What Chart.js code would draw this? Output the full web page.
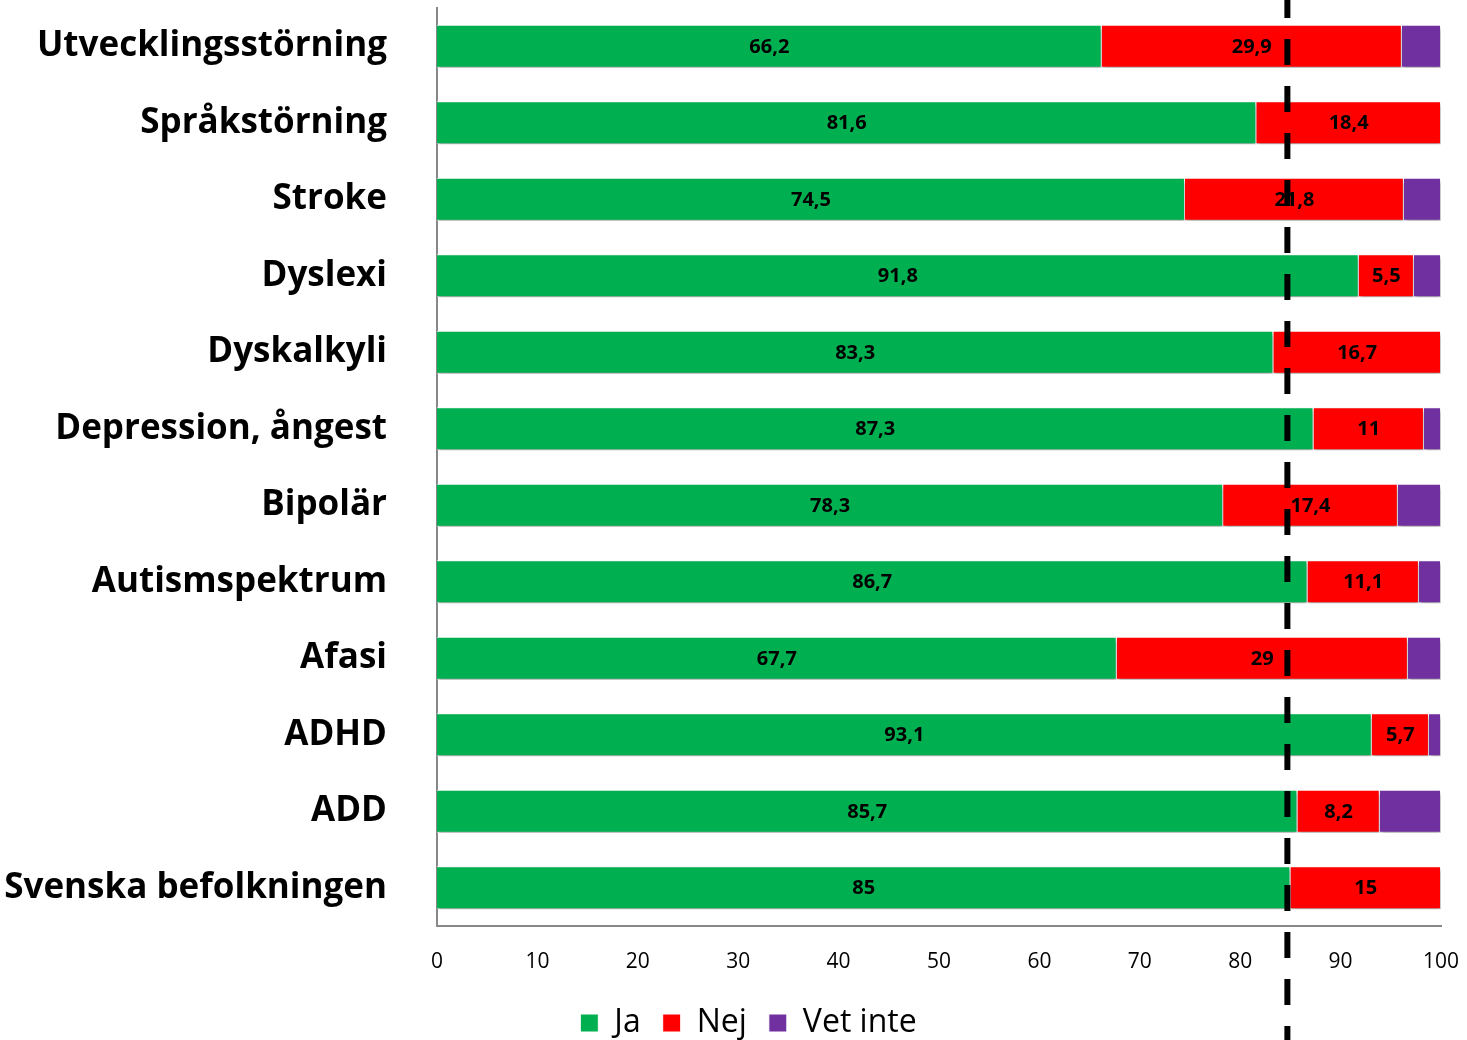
<!DOCTYPE html>
<html>
<head>
<meta charset="utf-8">
<script src="https://cdn.jsdelivr.net/npm/chart.js@4/dist/chart.umd.min.js"></script>
<style>
html,body{margin:0;padding:0;background:#fff;}
#wrap{width:1467px;height:1040px;position:relative;}
</style>
</head>
<body>
<div id="wrap"><canvas id="c" width="1467" height="1040"></canvas></div>
<script>
const categories = ["Utvecklingsstörning","Språkstörning","Stroke","Dyslexi","Dyskalkyli","Depression, ångest","Bipolär","Autismspektrum","Afasi","ADHD","ADD","Svenska befolkningen"];
const jaValues = [66.2,81.6,74.5,91.8,83.3,87.3,78.3,86.7,67.7,93.1,85.7,85];
const nejValues = [29.9,18.4,21.8,5.5,16.7,11,17.4,11.1,29,5.7,8.2,15];
const vetInteValues = [3.9,0,3.7,2.7,0,1.7,4.3,2.2,3.3,1.2,6.1,0];
const seriesNames = ["Ja","Nej","Vet inte"];
const xTicks = [0,10,20,30,40,50,60,70,80,90,100];
const referenceLineValue = 84.7;

const FONT = '"Open Sans", Lato, sans-serif';

const barShadow = {
  id:'barShadow',
  beforeDatasetsDraw(chart){
    const ctx = chart.ctx;
    ctx.save();
    ctx.shadowColor = 'rgba(0,0,0,0.35)';
    ctx.shadowBlur = 4;
    ctx.shadowOffsetX = 1;
    ctx.shadowOffsetY = 3;
  },
  afterDatasetsDraw(chart){
    chart.ctx.restore();
  }
};

const valueLabels = {
  id:'valueLabels',
  afterDatasetsDraw(chart){
    const ctx = chart.ctx;
    ctx.save();
    ctx.font = 'bold 20px ' + FONT;
    ctx.fillStyle = '#000';
    ctx.textAlign = 'center';
    ctx.textBaseline = 'middle';
    [0,1].forEach(di=>{
      const meta = chart.getDatasetMeta(di);
      meta.data.forEach((bar,i)=>{
        const v = chart.data.datasets[di].data[i];
        if(!v) return;
        const cx = (bar.x + bar.base)/2;
        ctx.fillText(String(v).replace('.',','), cx, bar.y+1);
      });
    });
    ctx.restore();
  }
};

const refLine = {
  id:'refLine',
  afterDraw(chart){
    const ctx = chart.ctx;
    const x = chart.scales.x.getPixelForValue(referenceLineValue);
    ctx.save();
    ctx.strokeStyle = '#000';
    ctx.lineWidth = 6;
    ctx.setLineDash([26,21]);
    ctx.lineDashOffset = 8;
    ctx.beginPath();
    ctx.moveTo(x,0);
    ctx.lineTo(x,chart.height);
    ctx.stroke();
    ctx.restore();
  }
};

const legendShift = {
  id:'legendShift',
  afterLayout(chart){
    const lg = chart.legend;
    if(!lg) return;
    lg.left += 28; lg.right += 28;
    lg.top += 9; lg.bottom += 9;
  }
};

new Chart(document.getElementById('c'),{
  type:'bar',
  data:{
    labels:categories,
    datasets:[
      {label:seriesNames[0],data:jaValues,backgroundColor:'#00B050',borderColor:'#ffffff',borderWidth:1},
      {label:seriesNames[1],data:nejValues,backgroundColor:'#FF0000',borderColor:'#ffffff',borderWidth:1},
      {label:seriesNames[2],data:vetInteValues,backgroundColor:'#7030A0',borderColor:'#ffffff',borderWidth:1}
    ]
  },
  options:{
    indexAxis:'y',
    responsive:false,
    animation:false,
    devicePixelRatio:1,
    layout:{padding:{top:8,right:26,bottom:0,left:0}},
    datasets:{bar:{categoryPercentage:1,barPercentage:0.56}},
    plugins:{
      legend:{
        position:'bottom',
        labels:{
          font:{family:FONT,size:32},
          color:'#000',
          boxWidth:18,boxHeight:18,padding:22
        }
      },
      tooltip:{enabled:false}
    },
    scales:{
      x:{
        stacked:true,min:0,max:100,
        afterBuildTicks(scale){scale.ticks = xTicks.map(v=>({value:v}));},
        grid:{display:false},
        border:{display:true,color:'#888',width:2},
        ticks:{font:{family:FONT,size:21},color:'#000',padding:15},
        afterFit(scale){scale.height = 50; scale.paddingLeft = 0; scale.paddingRight = 0;}
      },
      y:{
        stacked:true,
        grid:{display:false},
        border:{display:true,color:'#888',width:2},
        ticks:{font:{family:FONT,size:35,weight:'bold'},color:'#000',padding:42},
        afterFit(scale){scale.width = 437; scale.paddingTop = 0; scale.paddingBottom = 0;}
      }
    }
  },
  plugins:[barShadow,valueLabels,refLine,legendShift]
});
</script>
</body>
</html>
